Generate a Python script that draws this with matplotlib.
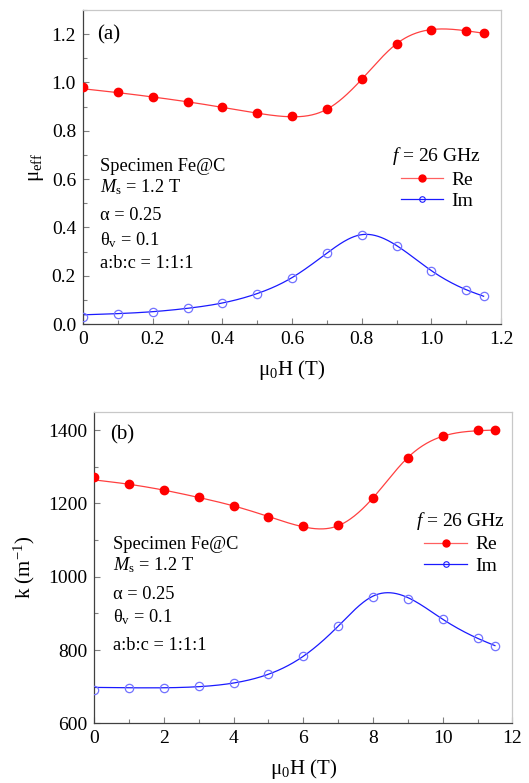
import numpy as np
import matplotlib
matplotlib.use("Agg")
import matplotlib.pyplot as plt
from matplotlib.ticker import MultipleLocator, AutoMinorLocator

plt.rcParams["font.family"] = ["Liberation Serif", "DejaVu Serif"]
plt.rcParams["mathtext.fontset"] = "custom"
plt.rcParams["mathtext.rm"] = "Liberation Serif"
plt.rcParams["mathtext.it"] = "Liberation Serif:italic"
plt.rcParams["font.size"] = 14

# ---- panel (a): effective permeability vs field ----
H_a = [0.0, 0.1, 0.2, 0.3, 0.4, 0.5, 0.6, 0.7, 0.8, 0.9, 1.0, 1.1, 1.15]
mu_re = [0.983, 0.959, 0.941, 0.921, 0.898, 0.873, 0.861, 0.890, 1.013, 1.160, 1.218, 1.214, 1.204]
mu_im = [0.028, 0.043, 0.051, 0.065, 0.087, 0.126, 0.192, 0.293, 0.370, 0.325, 0.221, 0.142, 0.115]
# fitted curves evaluated on the same field grid
mu_re_fit = [0.974, 0.958, 0.940, 0.920, 0.897, 0.873, 0.858, 0.889, 1.013, 1.160, 1.219, 1.214, 1.204]
mu_im_fit = [0.038, 0.043, 0.051, 0.065, 0.087, 0.126, 0.192, 0.293, 0.370, 0.325, 0.221, 0.142, 0.115]

# ---- panel (b): wave number vs field ----
H_b = [0, 1, 2, 3, 4, 5, 6, 7, 8, 9, 10, 11, 11.5]
k_re = [1273, 1252, 1236, 1216, 1193, 1164, 1137, 1140, 1215, 1325, 1383, 1400, 1400]
k_im = [691, 696, 696, 701, 711, 734, 783, 865, 944, 940, 884, 832, 812]
k_re_fit = [1264, 1252, 1236, 1216, 1193, 1164, 1136, 1139, 1215, 1325, 1383, 1398, 1400]
k_im_fit = [698, 697, 697, 700, 710, 734, 783, 865, 947, 943, 884, 832, 812]

params = ["Specimen Fe@C", r"$M_{\mathrm{s}}$ = 1.2 T", "α = 0.25",
          r"θ$_{\mathrm{v}}$ = 0.1", "a:b:c = 1:1:1"]
legend_title = r"$f$ = 26 GHz"


def smooth(x, y, n=400):
    """Natural cubic spline through (x, y)."""
    x = np.asarray(x, float)
    y = np.asarray(y, float)
    m = len(x)
    h = np.diff(x)
    A = np.zeros((m, m))
    b = np.zeros(m)
    A[0, 0] = A[-1, -1] = 1.0
    for i in range(1, m - 1):
        A[i, i - 1] = h[i - 1]
        A[i, i] = 2 * (h[i - 1] + h[i])
        A[i, i + 1] = h[i]
        b[i] = 6 * ((y[i + 1] - y[i]) / h[i] - (y[i] - y[i - 1]) / h[i - 1])
    M = np.linalg.solve(A, b)
    xs = np.linspace(x[0], x[-1], n)
    idx = np.clip(np.searchsorted(x, xs) - 1, 0, m - 2)
    x0, x1 = x[idx], x[idx + 1]
    hh = x1 - x0
    t0, t1 = x1 - xs, xs - x0
    ys = (M[idx] * t0 ** 3 + M[idx + 1] * t1 ** 3) / (6 * hh) \
        + (y[idx] / hh - M[idx] * hh / 6) * t0 \
        + (y[idx + 1] / hh - M[idx + 1] * hh / 6) * t1
    return xs, ys


RED = "#ff0000"
RED_LINE = "#ff4040"
BLUE = "#1a1aff"


def style_axes(ax):
    for side in ("left", "bottom"):
        ax.spines[side].set_color("#404040")
        ax.spines[side].set_linewidth(0.9)
    for side in ("top", "right"):
        ax.spines[side].set_color("#c8c8c8")
        ax.spines[side].set_linewidth(0.9)
    ax.tick_params(which="both", direction="in", color="#808080", labelsize=14,
                   top=False, right=False)
    ax.tick_params(which="major", length=4, width=0.8, pad=5)
    ax.tick_params(which="minor", length=3, width=0.8)


def draw_panel(ax, H, re, im, re_fit, im_fit):
    xs, ys = smooth(H, re_fit)
    ax.plot(xs, ys, color=RED_LINE, lw=0.9, zorder=2)
    xs, ys = smooth(H, im_fit)
    ax.plot(xs, ys, color=BLUE, lw=0.9, zorder=2)
    ax.plot(H, re, "o", ms=6, color=RED, mec=RED, zorder=3)
    ax.plot(H, im, "o", ms=6, mfc="none", mec="#7272ff", mew=0.9, zorder=3)
    # legend proxies
    ax.plot([], [], "-o", color="#ff6060", lw=0.9, ms=5, mfc=RED, mec=RED, label="Re")
    ax.plot([], [], "-o", color=BLUE, lw=0.9, ms=4, mfc="none", mec=BLUE, mew=0.8, label="Im")


fig = plt.figure(figsize=(5.29, 7.83), dpi=100)

# panel (a)
ax1 = fig.add_axes([0.1569, 0.5862, 0.7902, 0.4010])
draw_panel(ax1, H_a, mu_re, mu_im, mu_re_fit, mu_im_fit)
ax1.set_xlim(0, 1.2)
ax1.set_ylim(0, 1.3)
ax1.xaxis.set_minor_locator(AutoMinorLocator(2))
ax1.yaxis.set_minor_locator(AutoMinorLocator(2))
ax1.set_yticks([0.0, 0.2, 0.4, 0.6, 0.8, 1.0, 1.2])
ax1.set_yticklabels(["0.0", "0.2", "0.4", "0.6", "0.8", "1.0", "1.2"])
ax1.set_xticks([0, 0.2, 0.4, 0.6, 0.8, 1.0, 1.2])
ax1.set_xticklabels(["0", "0.2", "0.4", "0.6", "0.8", "1.0", "1.2"])
style_axes(ax1)
ax1.set_xlabel(r"μ$_{0}$H (T)", fontsize=15, labelpad=7)
ax1.set_ylabel(r"μ$_{\mathrm{eff}}$", fontsize=15, labelpad=4)
ax1.text(0.034, 0.92, "(a)", transform=ax1.transAxes, fontsize=15, va="center", ha="left")
for txt, yy in zip(params, [0.503, 0.436, 0.347, 0.268, 0.194]):
    ax1.text(0.041, yy, txt, transform=ax1.transAxes, fontsize=13.2, va="center", ha="left")
ax1.legend(title=legend_title, frameon=False, loc="upper left",
           bbox_to_anchor=(0.74, 0.57), fontsize=14, title_fontsize=14,
           handlelength=2.2, handletextpad=0.4, labelspacing=0.2,
           borderpad=0, borderaxespad=0)

# panel (b)
ax2 = fig.add_axes([0.1783, 0.0762, 0.7902, 0.3980])
draw_panel(ax2, H_b, k_re, k_im, k_re_fit, k_im_fit)
ax2.set_xlim(0, 12)
ax2.set_ylim(600, 1450)
ax2.xaxis.set_major_locator(MultipleLocator(2))
ax2.xaxis.set_minor_locator(AutoMinorLocator(2))
ax2.yaxis.set_major_locator(MultipleLocator(200))
ax2.yaxis.set_minor_locator(AutoMinorLocator(2))
style_axes(ax2)
ax2.set_xlabel(r"μ$_{0}$H (T)", fontsize=15, labelpad=7)
ax2.set_ylabel(r"k (m$^{-1}$)", fontsize=15, labelpad=8)
ax2.text(0.038, 0.925, "(b)", transform=ax2.transAxes, fontsize=15, va="center", ha="left")
for txt, yy in zip(params, [0.575, 0.508, 0.412, 0.341, 0.251]):
    ax2.text(0.045, yy, txt, transform=ax2.transAxes, fontsize=13.2, va="center", ha="left")
ax2.legend(title=legend_title, frameon=False, loc="upper left",
           bbox_to_anchor=(0.77, 0.685), fontsize=14, title_fontsize=14,
           handlelength=2.2, handletextpad=0.4, labelspacing=0.2,
           borderpad=0, borderaxespad=0)

fig.savefig("out.png", dpi=100)
